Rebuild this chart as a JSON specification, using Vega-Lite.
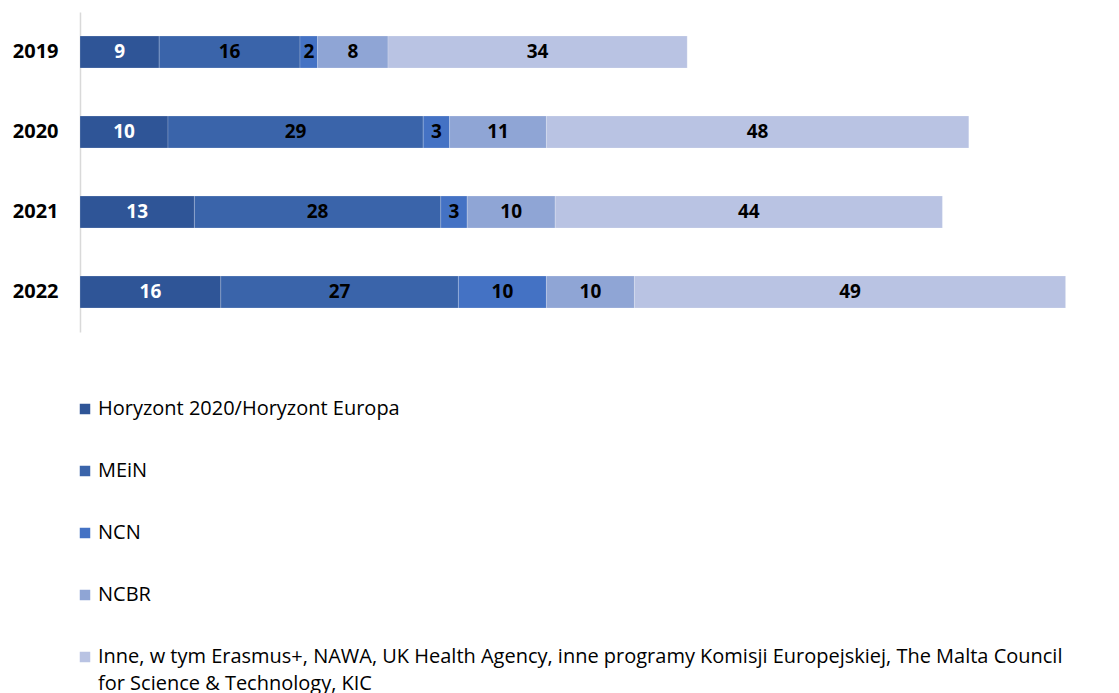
{
  "$schema": "https://vega.github.io/schema/vega-lite/v6.json",
  "width": 1038.4,
  "height": 320,
  "autosize": {"type": "none"},
  "padding": {"left": 80, "top": 12, "right": 0, "bottom": 361},
  "background": "white",
  "config": {"view": {"stroke": null}, "font": "Open Sans", "style": {"guide-label": {"lineHeight": 27}}},
  "data": {
    "values": [
      {"year": "2019", "source": "Horyzont 2020/Horyzont Europa", "k": 1, "value": 9},
      {"year": "2019", "source": "MEiN", "k": 2, "value": 16},
      {"year": "2019", "source": "NCN", "k": 3, "value": 2},
      {"year": "2019", "source": "NCBR", "k": 4, "value": 8},
      {"year": "2019", "source": "Inne, w tym Erasmus+, NAWA, UK Health Agency, inne programy Komisji Europejskiej, The Malta Council for Science & Technology, KIC", "k": 5, "value": 34},
      {"year": "2020", "source": "Horyzont 2020/Horyzont Europa", "k": 1, "value": 10},
      {"year": "2020", "source": "MEiN", "k": 2, "value": 29},
      {"year": "2020", "source": "NCN", "k": 3, "value": 3},
      {"year": "2020", "source": "NCBR", "k": 4, "value": 11},
      {"year": "2020", "source": "Inne, w tym Erasmus+, NAWA, UK Health Agency, inne programy Komisji Europejskiej, The Malta Council for Science & Technology, KIC", "k": 5, "value": 48},
      {"year": "2021", "source": "Horyzont 2020/Horyzont Europa", "k": 1, "value": 13},
      {"year": "2021", "source": "MEiN", "k": 2, "value": 28},
      {"year": "2021", "source": "NCN", "k": 3, "value": 3},
      {"year": "2021", "source": "NCBR", "k": 4, "value": 10},
      {"year": "2021", "source": "Inne, w tym Erasmus+, NAWA, UK Health Agency, inne programy Komisji Europejskiej, The Malta Council for Science & Technology, KIC", "k": 5, "value": 44},
      {"year": "2022", "source": "Horyzont 2020/Horyzont Europa", "k": 1, "value": 16},
      {"year": "2022", "source": "MEiN", "k": 2, "value": 27},
      {"year": "2022", "source": "NCN", "k": 3, "value": 10},
      {"year": "2022", "source": "NCBR", "k": 4, "value": 10},
      {"year": "2022", "source": "Inne, w tym Erasmus+, NAWA, UK Health Agency, inne programy Komisji Europejskiej, The Malta Council for Science & Technology, KIC", "k": 5, "value": 49}
    ]
  },
  "transform": [
    {"stack": "value", "groupby": ["year"], "sort": [{"field": "k", "order": "ascending"}], "as": ["x0", "x1"]},
    {"calculate": "(datum.x0 + datum.x1) / 2", "as": "mid"}
  ],
  "encoding": {
    "y": {
      "field": "year", "type": "nominal", "sort": ["2019", "2020", "2021", "2022"],
      "scale": {"paddingInner": 0.6, "paddingOuter": 0.3},
      "axis": {"title": null, "ticks": false, "domainColor": "#D9D9D9", "domainWidth": 1.5, "labelFontWeight": "bold", "labelFontSize": 20, "labelColor": "#000000", "labelPadding": 22, "labelFont": "Open Sans"}
    }
  },
  "layer": [
    {
      "mark": {"type": "bar", "stroke": "white", "strokeWidth": 0.5, "strokeOpacity": 0.4},
      "encoding": {
        "x": {"field": "x0", "type": "quantitative", "scale": {"domain": [0, 118], "nice": false, "zero": true}, "axis": null},
        "x2": {"field": "x1"},
        "color": {
          "field": "source", "type": "nominal",
          "sort": {"field": "k"},
          "scale": {
            "domain": ["Horyzont 2020/Horyzont Europa", "MEiN", "NCN", "NCBR", "Inne, w tym Erasmus+, NAWA, UK Health Agency, inne programy Komisji Europejskiej, The Malta Council for Science & Technology, KIC"],
            "range": ["#2F5597", "#3A64AA", "#4472C4", "#8FA5D5", "#B9C3E3"]
          },
          "legend": {
            "title": null,
            "orient": "none",
            "legendX": -5,
            "legendY": 387,
            "direction": "vertical",
            "symbolType": "square",
            "symbolSize": 110,
            "symbolStrokeWidth": 0,
            "labelFontSize": 20,
            "labelFont": "Open Sans",
            "labelColor": "#000000",
            "labelOffset": 3,
            "labelLimit": 1100,
            "rowPadding": 42,
            "labelExpr": "indexof(datum.label, 'Inne') === 0 ? ['Inne, w tym Erasmus+, NAWA, UK Health Agency, inne programy Komisji Europejskiej, The Malta Council', 'for Science & Technology, KIC'] : datum.label"
          }
        }
      }
    },
    {
      "mark": {"type": "text", "fontWeight": "bold", "fontSize": 19, "font": "Open Sans", "baseline": "middle", "align": "center"},
      "encoding": {
        "x": {"field": "mid", "type": "quantitative"},
        "text": {"field": "value", "type": "quantitative"},
        "color": {"condition": {"test": "datum.k === 1", "value": "white"}, "value": "black"}
      }
    }
  ]
}
